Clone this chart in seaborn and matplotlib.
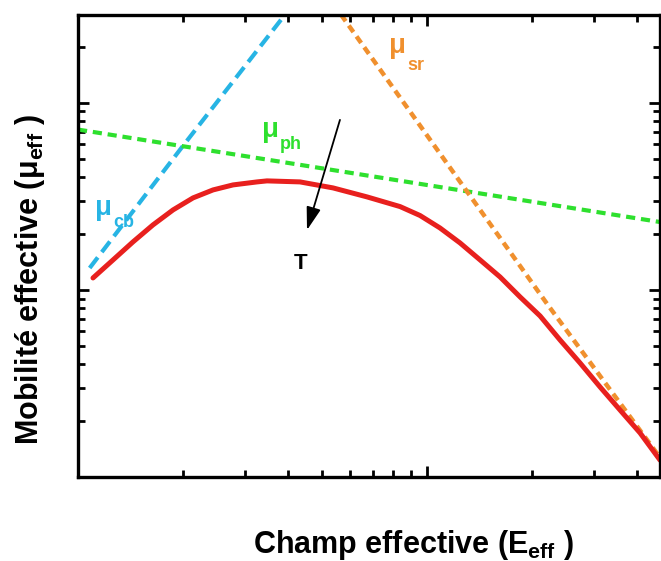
import numpy as np
import pandas as pd
import seaborn as sns
import matplotlib.pyplot as plt

# values (log-log axes, arbitrary units)
mu_eff_x = [1.104, 1.260, 1.437, 1.640, 1.872, 2.136, 2.437, 2.781, 3.258,
            3.479, 4.326, 5.378, 6.731, 8.370, 9.548, 10.89, 12.43, 14.19,
            16.19, 18.48, 21.08, 24.05, 27.44, 31.31, 35.73, 40.77, 46.53]
mu_eff_y = [1.159, 1.447, 1.806, 2.227, 2.678, 3.105, 3.425, 3.643, 3.780,
            3.828, 3.780, 3.511, 3.143, 2.790, 2.500, 2.145, 1.784, 1.447,
            1.173, 0.917, 0.726, 0.540, 0.407, 0.303, 0.228, 0.172, 0.123]

mu_cb_x = [1.08, 2.0, 4.2]
mu_cb_y = [1.31, 5.9, 35.0]

mu_ph_x = [1.0, 47.0]
mu_ph_y = [7.2, 2.3]

mu_sr_x = [5.67, 22.1, 46.8]
mu_sr_y = [29.6, 0.84, 0.125]

labels = ['cb', 'ph', 'sr']
label_x = [1.119, 3.367, 7.78]
label_y = [2.518, 6.58, 18.5]

sns.set_style("ticks")
plt.rcParams['font.family'] = ['Liberation Sans', 'DejaVu Sans']
plt.rcParams['mathtext.fontset'] = 'custom'
plt.rcParams['mathtext.rm'] = 'Liberation Sans'
plt.rcParams['mathtext.bf'] = 'Liberation Sans:bold'
plt.rcParams['text.color'] = 'black'

red = '#E8201E'
blue = '#27B4E4'
green = '#2EE02E'
orange = '#F0902E'

fig = plt.figure(figsize=(6.61, 5.61), dpi=100)
ax = fig.add_axes([0.118, 0.1497, 0.8805, 0.8236])

sns.lineplot(x=mu_cb_x, y=mu_cb_y, ax=ax, color=blue, lw=3.0,
             linestyle=(0, (3.2, 1.6)))
sns.lineplot(x=mu_ph_x, y=mu_ph_y, ax=ax, color=green, lw=3.0,
             linestyle=(0, (2.2, 1.4)))
sns.lineplot(x=mu_sr_x, y=mu_sr_y, ax=ax, color=orange, lw=3.2,
             linestyle=(0, (1.8, 1.2)))
sns.lineplot(x=mu_eff_x, y=mu_eff_y, ax=ax, color=red, lw=3.6, sort=False)

ax.set(xscale='log', yscale='log', xlim=(1, 46.5), ylim=(0.1, 29.5))
ax.tick_params(which='both', direction='in', top=True, right=True,
               labelbottom=False, labelleft=False, width=2, color='black')
ax.tick_params(which='major', length=8)
ax.tick_params(which='minor', length=5)
for s in ax.spines.values():
    s.set_linewidth(2.4)
    s.set_color('black')

# mu labels: big mu plus a lowered subscript
sub_dy = [-9, -9, -12]
for name, lx, ly, dy, c in zip(labels, label_x, label_y, sub_dy,
                               [blue, green, orange]):
    ax.annotate('μ', xy=(lx, ly), color=c, fontsize=20, fontweight='bold',
                ha='left', va='baseline')
    ax.annotate(name, xy=(lx, ly), xytext=(13, dy), textcoords='offset points',
                color=c, fontsize=13, fontweight='bold', ha='left', va='baseline')

ax.annotate('', xy=(4.53, 2.09), xytext=(5.63, 8.11),
            arrowprops=dict(arrowstyle='-|>,head_length=0.7,head_width=0.22',
                            color='black', lw=1.3, mutation_scale=20,
                            shrinkA=0, shrinkB=0))
ax.text(4.355, 1.377, 'T', fontsize=16, fontweight='bold', ha='center', va='center')

fig.text(0.626, 0.028, r'Champ effective ($\mathbf{E}_{\mathbf{eff}}$ )',
         fontsize=22, fontweight='bold', ha='center', va='center')
fig.text(0.045, 0.501, r'Mobilité effective ($\mathbf{μ}_{\mathbf{eff}}$ )',
         fontsize=22, fontweight='bold', ha='center', va='center', rotation=90)

fig.savefig('out.png', dpi=100)
